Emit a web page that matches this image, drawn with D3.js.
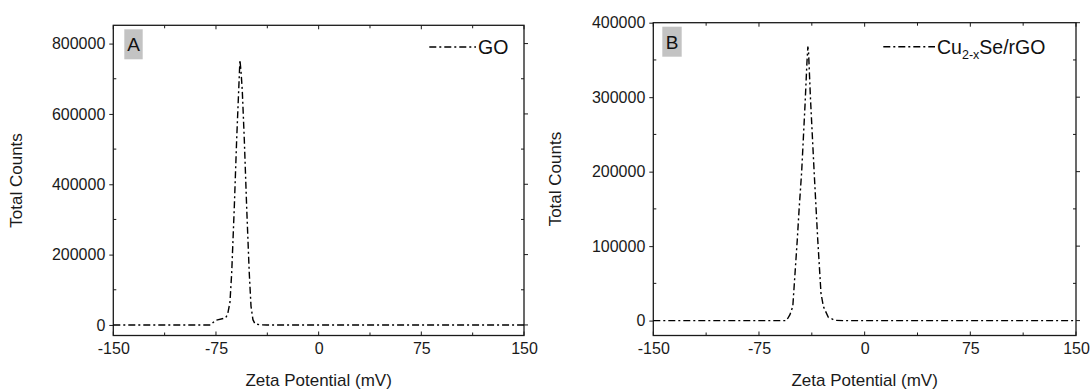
<!DOCTYPE html>
<html><head><meta charset="utf-8">
<script src="https://cdn.jsdelivr.net/npm/d3@7"></script>
<style>
html,body{margin:0;padding:0;background:#fff;}
svg{display:block;font-family:"Liberation Sans",Arial,sans-serif;}
</style></head><body>
<svg id="chart" width="1091" height="390"></svg>
<script>
// ---- data ----
const goX = [-150,-120,-100,-85,-79,-75.5,-68,-66.5,-64.8,-63.5,-61.6,-59.9,-58.4,-57.5,-56.7,-55.8,-54.3,-52.6,-50.7,-49.4,-48,-46.5,-43,-38,-20,0,50,100,150];
const goY = [0,0,0,0,0,13000,20000,30000,64000,149000,337000,526000,668000,753000,720000,668000,526000,337000,149000,53000,15000,3000,500,0,0,0,0,0,0];
const cuX = [-150,-100,-60,-55.5,-53,-51,-49.4,-47.8,-46.5,-44.7,-42.3,-41,-40.3,-39.8,-38.5,-35.8,-33.3,-31,-29.3,-25.8,-21,-15,0,150];
const cuY = [0,0,0,0,8000,19000,64000,109000,150000,200000,290000,345000,368000,360000,300000,198000,109000,37000,19000,4400,400,0,0,0];
const xTicks = [-150,-75,0,75,150];
const yTicksA = [0,200000,400000,600000,800000];
const yTicksB = [0,100000,200000,300000,400000];
const xTitle = "Zeta Potential (mV)";
const yTitle = "Total Counts";

const panels = [
  {x:goX, y:goY, yDom:[-30000,852000], yTicks:yTicksA, yStep:100000,
   left:113.3, right:524, top:25.3, bottom:335.5, letter:"A",
   box:[124.3,29.3,18.4,30], yTitleX:18, legX:[429.3,476], legY:47, label:"GO"},
  {x:cuX, y:cuY, yDom:[-20000,400000], yTicks:yTicksB, yStep:50000,
   left:653.3, right:1076, top:22.7, bottom:335.5, letter:"B",
   box:[662.3,26.7,19.4,30], yTitleX:557, legX:[883.3,935], legY:46.7, label:"CU"}
];

const svg = d3.select("#chart");
const ink = "#1a1a1a";
const dash = "7,3,2,3";
const fmt = d => String(d);

panels.forEach(p => {
  const g = svg.append("g");
  const xs = d3.scaleLinear().domain([-150,150]).range([p.left,p.right]);
  const ys = d3.scaleLinear().domain(p.yDom).range([p.bottom,p.top]);
  const minorX = d3.range(-150,150.1,37.5).filter(v => !xTicks.includes(v));
  const minorY = d3.range(0,p.yDom[1]+1,p.yStep).filter(v => !p.yTicks.includes(v));

  const gx = g.append("g").attr("transform",`translate(0,${p.bottom})`)
    .call(d3.axisBottom(xs).tickValues(xTicks).tickSize(0).tickPadding(0).tickFormat(fmt));
  gx.select(".domain").remove();
  gx.selectAll("text").attr("font-size",16).attr("fill",ink).attr("dy","1.15em").attr("font-family","Liberation Sans, Arial, sans-serif");
  g.selectAll(".xt").data(xTicks.concat(minorX)).join("line")
    .attr("x1",d=>xs(d)).attr("x2",d=>xs(d))
    .attr("y1",p.bottom).attr("y2",d=>p.bottom-(xTicks.includes(d)?4:3))
    .attr("stroke",ink).attr("stroke-width",1);
  g.selectAll(".xtt").data(xTicks.concat(minorX)).join("line")
    .attr("x1",d=>xs(d)).attr("x2",d=>xs(d))
    .attr("y1",p.top).attr("y2",d=>p.top+(xTicks.includes(d)?4:3))
    .attr("stroke",ink).attr("stroke-width",1);

  const gy = g.append("g").attr("transform",`translate(${p.left},0)`)
    .call(d3.axisLeft(ys).tickValues(p.yTicks).tickSize(4).tickPadding(4).tickFormat(fmt));
  gy.select(".domain").remove();
  gy.selectAll("line").attr("stroke",ink);
  gy.selectAll("text").attr("font-size",16).attr("fill",ink).attr("font-family","Liberation Sans, Arial, sans-serif");
  g.selectAll(".ym").data(minorY).join("line")
    .attr("x1",p.left).attr("x2",p.left+3).attr("y1",d=>ys(d)).attr("y2",d=>ys(d))
    .attr("stroke",ink).attr("stroke-width",1);
  g.selectAll(".yr").data(p.yTicks).join("line")
    .attr("x1",p.right).attr("x2",p.right+4).attr("y1",d=>ys(d)).attr("y2",d=>ys(d))
    .attr("stroke",ink).attr("stroke-width",1);
  g.selectAll(".yrm").data(minorY).join("line")
    .attr("x1",p.right).attr("x2",p.right-3).attr("y1",d=>ys(d)).attr("y2",d=>ys(d))
    .attr("stroke",ink).attr("stroke-width",1);

  g.append("rect").attr("x",p.left).attr("y",p.top)
    .attr("width",p.right-p.left).attr("height",p.bottom-p.top)
    .attr("fill","none").attr("stroke",ink).attr("stroke-width",1.3);

  const pts = p.x.map((v,i)=>[v,p.y[i]]);
  g.append("path").datum(pts)
    .attr("d",d3.line().x(d=>xs(d[0])).y(d=>ys(d[1])))
    .attr("fill","none").attr("stroke","#000").attr("stroke-width",1.4)
    .attr("stroke-dasharray",dash);

  g.append("text").attr("x",(p.left+p.right)/2).attr("y",386)
    .attr("text-anchor","middle").attr("font-size",17).attr("fill",ink).text(xTitle);
  g.append("text").attr("transform",`translate(${p.yTitleX},${(p.top+p.bottom)/2}) rotate(-90)`)
    .attr("text-anchor","middle").attr("dominant-baseline","middle")
    .attr("font-size",17).attr("fill",ink).text(yTitle);

  g.append("rect").attr("x",p.box[0]).attr("y",p.box[1]).attr("width",p.box[2]).attr("height",p.box[3])
    .attr("fill","#c3c3c3");
  g.append("text").attr("x",p.box[0]+p.box[2]/2).attr("y",p.box[1]+p.box[3]/2+7)
    .attr("text-anchor","middle").attr("font-size",19).attr("fill","#111").text(p.letter);

  g.append("line").attr("x1",p.legX[0]).attr("x2",p.legX[1]).attr("y1",p.legY).attr("y2",p.legY)
    .attr("stroke","#000").attr("stroke-width",1.4).attr("stroke-dasharray",dash);
  const lt = g.append("text").attr("x",p.legX[1]+2).attr("y",p.legY+7)
    .attr("font-size",19.5).attr("fill","#111");
  if (p.label === "GO") {
    lt.text("GO");
  } else {
    lt.append("tspan").text("Cu");
    lt.append("tspan").attr("font-size",12.5).attr("dy",5).text("2-x");
    lt.append("tspan").attr("dy",-5).text("Se/rGO");
  }
});
</script>
</body></html>
